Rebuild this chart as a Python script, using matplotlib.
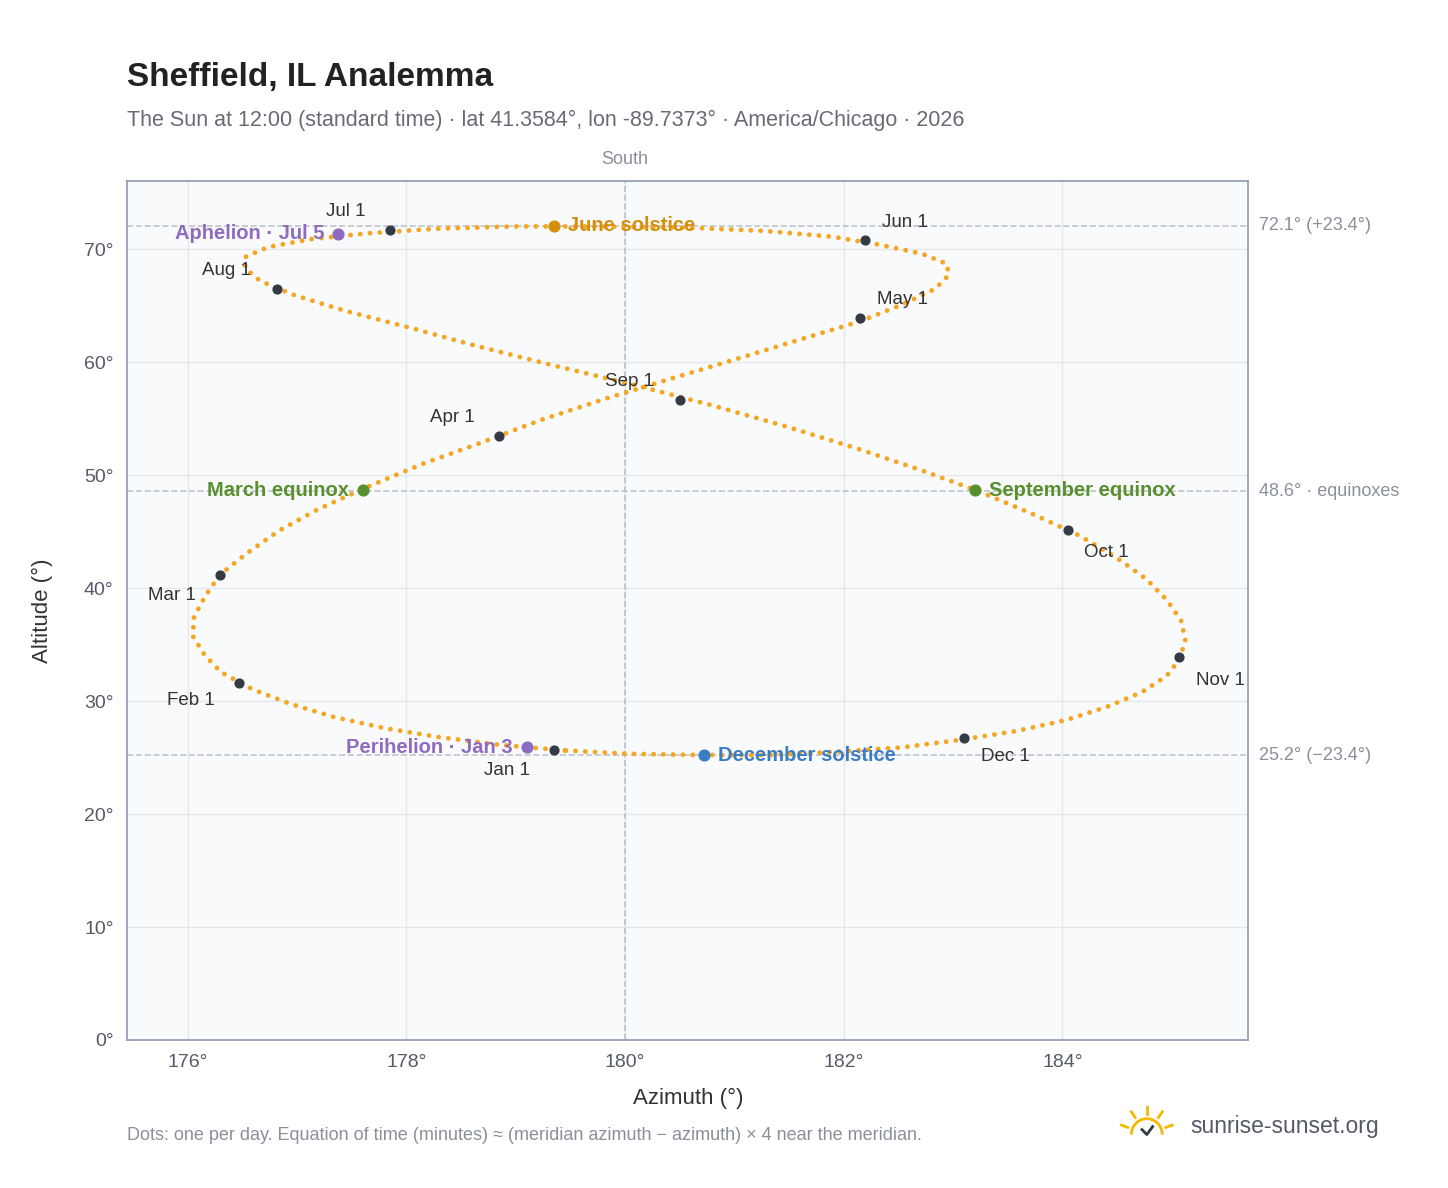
import numpy as np
import matplotlib.pyplot as plt
from matplotlib.patches import Arc

plt.rcParams['font.family'] = ['Liberation Sans', 'DejaVu Sans']

# Sun data every 5 days from Jan 1 (declination in deg, equation of time in min)
decl = [-23.0, -22.5, -21.8, -21.0, -20.0, -18.8, -17.5, -16.0, -14.5, -12.8, -11.1, -9.3,
        -7.4, -5.5, -3.5, -1.6, 0.4, 2.4, 4.3, 6.3, 8.2, 10.0, 11.8, 13.5, 15.0, 16.5, 17.9,
        19.1, 20.1, 21.0, 21.8, 22.5, 23.0, 23.3, 23.4, 23.4, 23.2, 22.8, 22.3, 21.6, 20.7,
        19.7, 18.6, 17.3, 15.9, 14.4, 12.8, 11.1, 9.4, 7.6, 5.7, 3.8, 1.9, 0.0, -2.0, -3.9,
        -5.8, -7.7, -9.6, -11.4, -13.1, -14.8, -16.3, -17.7, -19.0, -20.2, -21.2, -22.0,
        -22.7, -23.1, -23.4, -23.4, -23.3]
eot = [-3.2, -5.5, -7.6, -9.4, -11.0, -12.3, -13.3, -14.0, -14.2, -14.2, -13.8, -13.1,
       -12.3, -11.2, -10.0, -8.7, -7.2, -5.7, -4.2, -2.8, -1.4, -0.1, 1.1, 2.1, 2.9, 3.4, 3.7,
       3.7, 3.5, 3.0, 2.3, 1.6, 0.7, -0.3, -1.4, -2.4, -3.4, -4.3, -5.1, -5.8, -6.3, -6.5,
       -6.5, -6.2, -5.6, -4.7, -3.7, -2.4, -0.9, 0.7, 2.4, 4.1, 5.8, 7.5, 9.2, 10.8, 12.2,
       13.5, 14.6, 15.5, 16.1, 16.4, 16.4, 16.0, 15.2, 14.1, 12.6, 10.8, 8.8, 6.5, 4.1, 1.6, -0.9]
lat, lon = 41.3584, -89.7373

# Month markers (azimuth, altitude)
month_labels = ["Jan 1", "Feb 1", "Mar 1", "Apr 1", "May 1", "Jun 1",
                "Jul 1", "Aug 1", "Sep 1", "Oct 1", "Nov 1", "Dec 1"]
month_az = [179.35, 176.47, 176.30, 178.85, 182.15, 182.20, 177.85, 176.82, 180.50, 184.05, 185.07, 183.10]
month_alt = [25.7, 31.6, 41.2, 53.5, 63.9, 70.8, 71.7, 66.5, 56.7, 45.2, 33.9, 26.7]
month_off = [(-50, -18), (-52, -16), (-52, -18), (-50, 10), (12, 10), (12, 10),
             (-46, 10), (-54, 10), (-54, 10), (12, -20), (12, -20), (12, -16)]

events = ["June solstice", "December solstice", "March equinox", "September equinox",
          "Aphelion · Jul 5", "Perihelion · Jan 3"]
event_az = [179.35, 180.72, 177.60, 183.20, 177.38, 179.10]
event_alt = [72.1, 25.2, 48.7, 48.7, 71.4, 25.9]
event_col = ["#d4900c", "#3b7dc4", "#5a8f2e", "#5a8f2e", "#8e6bbf", "#8e6bbf"]
event_left = [False, False, True, False, True, True]

# convert to alt/az at 12:00 standard time (meridian -90)
phi = np.radians(lat)
d = np.radians(np.array(decl))
H = np.radians((np.array(eot) + (lon + 90) * 4) / 4.0)
alt = np.degrees(np.arcsin(np.sin(phi) * np.sin(d) + np.cos(phi) * np.cos(d) * np.cos(H)))
az = 180 + np.degrees(np.arctan2(np.sin(H), np.cos(H) * np.sin(phi) - np.tan(d) * np.cos(phi)))

fig = plt.figure(figsize=(14.48, 11.88), dpi=100)
ax = fig.add_axes([0.088, 0.1246, 0.774, 0.7234])
ax.set_facecolor("#f8fafc")
ax.set_xlim(175.45, 185.70)
ax.set_ylim(0, 76.1)
ax.grid(color="#e5e7eb", lw=1)
ax.set_axisbelow(True)
for s in ax.spines.values():
    s.set_color("#94a3b8"); s.set_linewidth(1.3)
ax.set_xticks([176, 178, 180, 182, 184])
ax.set_xticklabels([f"{v}°" for v in [176, 178, 180, 182, 184]])
ax.set_yticks(range(0, 80, 10))
ax.set_yticklabels([f"{v}°" for v in range(0, 80, 10)])
ax.tick_params(labelsize=14, colors="#555b66", length=0, pad=10)
ax.set_xlabel("Azimuth (°)", fontsize=16, color="#333333", labelpad=12)
ax.set_ylabel("Altitude (°)", fontsize=16, color="#333333", labelpad=22)

ax.axvline(180, color="#b6c2cf", ls="--", lw=1.2)
for y in [72.1, 48.6, 25.2]:
    ax.axhline(y, color="#c0c4cc", ls="--", lw=1.2)
ax.text(180, 77.2, "South", ha="center", va="bottom", fontsize=13, color="#8a909a")
for y, t in [(72.1, "72.1° (+23.4°)"), (48.6, "48.6° · equinoxes"), (25.2, "25.2° (−23.4°)")]:
    ax.text(1.01, y, t, transform=ax.get_yaxis_transform(), va="center", fontsize=13, color="#8a909a")

ax.plot(np.append(az, az[0]), np.append(alt, alt[0]), ls=(0, (0.01, 2.0)), lw=3.5,
        dash_capstyle="round", color="#f5a623", zorder=3)
ax.scatter(month_az, month_alt, s=40, color="#333a44", zorder=4)
for lab, x, y, off in zip(month_labels, month_az, month_alt, month_off):
    ax.annotate(lab, (x, y), xytext=off, textcoords="offset points", fontsize=13.5, color="#333333")
for lab, x, y, c, left in zip(events, event_az, event_alt, event_col, event_left):
    ax.scatter([x], [y], s=60, color=c, zorder=5)
    ax.annotate(lab, (x, y), xytext=(-10 if left else 10, 0), textcoords="offset points",
                ha="right" if left else "left", va="center", fontsize=14.5, color=c, fontweight="bold")

fig.text(0.088, 0.928, "Sheffield, IL Analemma", fontsize=24, fontweight="bold", color="#222222")
fig.text(0.088, 0.894, "The Sun at 12:00 (standard time) · lat 41.3584°, lon -89.7373° · America/Chicago · 2026",
         fontsize=15.5, color="#666b75")
fig.text(0.088, 0.040, "Dots: one per day. Equation of time (minutes) ≈ (meridian azimuth − azimuth) × 4 near the meridian.",
         fontsize=13, color="#8a909a")
fig.text(0.822, 0.046, "sunrise-sunset.org", fontsize=16.5, color="#555b66")

# small sun logo
lax = fig.add_axes([0.772, 0.040, 0.04, 0.03])
lax.set_xlim(-1.5, 1.5); lax.set_ylim(-0.3, 1.5); lax.axis("off")
lax.add_patch(Arc((0, 0), 1.6, 1.6, theta1=0, theta2=180, color="#f5b800", lw=2))
for a in np.radians([20, 55, 90, 125, 160]):
    lax.plot([1.05 * np.cos(a), 1.4 * np.cos(a)], [1.05 * np.sin(a), 1.4 * np.sin(a)], color="#f5b800", lw=2)
lax.plot([-0.25, 0, 0.3], [0.25, 0.0, 0.4], color="#333a44", lw=2)

fig.savefig("out.png", dpi=100)
